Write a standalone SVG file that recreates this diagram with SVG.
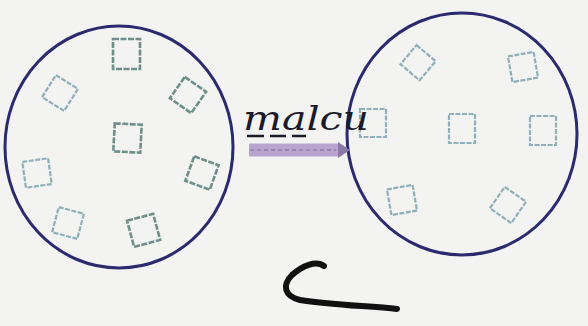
<svg xmlns="http://www.w3.org/2000/svg" width="588" height="326" viewBox="0 0 588 326">
<style>
.circ{fill:none;stroke:#2b2a6e;stroke-width:3}
.sq{fill:none;stroke:#8fb0b8;stroke-width:2.2;stroke-dasharray:5 1.5}
.sqd{fill:none;stroke:#6f8f8a;stroke-width:2.6;stroke-dasharray:6 1.5}
.lbl{font-family:"DejaVu Serif",serif;font-style:italic;font-size:34px;fill:#1a1a2a}
</style>
<rect width="588" height="326" fill="#f3f3f2"/>
<g id="left-set">
<ellipse class="circ" cx="119" cy="147" rx="114" ry="121"/>
<rect class="sqd" x="-13" y="-15" width="27" height="30" transform="translate(126,54)"/>
<rect class="sq" x="-13" y="-13" width="26" height="26" transform="translate(60,93) rotate(32)"/>
<rect class="sqd" x="-13" y="-13" width="26" height="26" transform="translate(188,95) rotate(35)"/>
<rect class="sqd" x="-13" y="-14" width="27" height="28" transform="translate(127,138) rotate(3)"/>
<rect class="sq" x="-13" y="-13" width="26" height="26" transform="translate(37,173) rotate(-8)"/>
<rect class="sqd" x="-13" y="-13" width="26" height="26" transform="translate(202,173) rotate(20)"/>
<rect class="sq" x="-13" y="-13" width="26" height="26" transform="translate(68,223) rotate(15)"/>
<rect class="sqd" x="-13" y="-13" width="27" height="27" transform="translate(143,230) rotate(-15)"/>
</g>
<g id="right-set">
<ellipse class="circ" cx="462" cy="134" rx="115" ry="121"/>
<rect class="sq" x="-12" y="-12" width="25" height="25" transform="translate(418,62) rotate(40)"/>
<rect class="sq" x="-13" y="-13" width="26" height="26" transform="translate(523,67) rotate(-10)"/>
<rect class="sq" x="-13" y="-14" width="26" height="28" transform="translate(373,123)"/>
<rect class="sq" x="-13" y="-14" width="26" height="29" transform="translate(462,128)"/>
<rect class="sq" x="-13" y="-14" width="26" height="29" transform="translate(543,130)"/>
<rect class="sq" x="-13" y="-13" width="26" height="26" transform="translate(402,200) rotate(-10)"/>
<rect class="sq" x="-13" y="-13" width="26" height="26" transform="translate(508,205) rotate(35)"/>
</g>
<g id="connectors">
<path d="M249 150 H338" stroke="#b9a4cf" stroke-width="13" fill="none"/>
<path d="M338 142 L350 150 L338 158 Z" fill="#8a78a6"/>
<path d="M250 150 H336" stroke="#9888b8" stroke-width="2" stroke-dasharray="4 3" fill="none"/>
</g>
<g id="label">
<text class="lbl" x="243" y="130" textLength="126" lengthAdjust="spacingAndGlyphs">malcu</text>
<path d="M247 136 H264 M270 136 H286 M292 136 H306" stroke="#1a1a2a" stroke-width="2.5" fill="none"/>
</g>
<g id="mark">
<path d="M324 266 C316 260 302 266 292 275 C282 285 284 296 300 300 C330 305 370 306 397 309" stroke="#111" stroke-width="6" fill="none" stroke-linecap="round" stroke-linejoin="round"/>
</g>
</svg>
